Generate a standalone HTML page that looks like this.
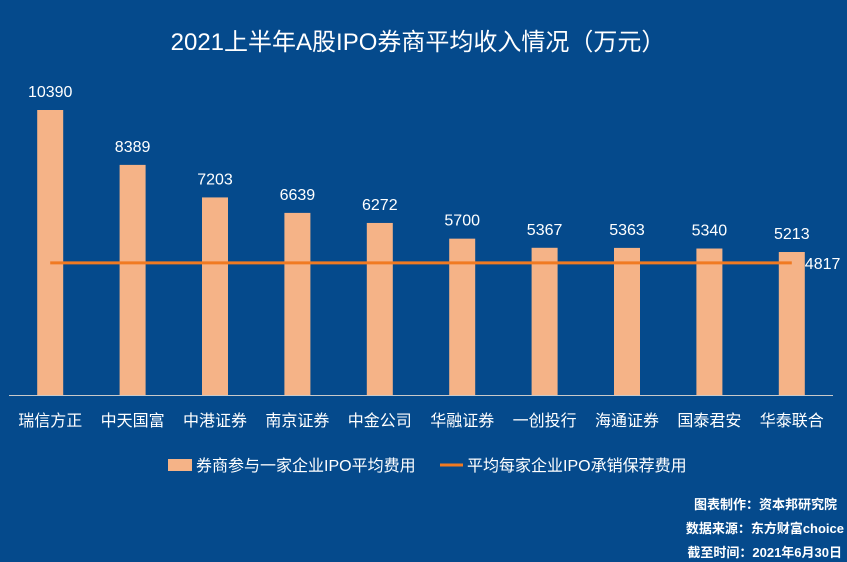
<!DOCTYPE html>
<html><head><meta charset="utf-8">
<style>
body{margin:0;width:847px;height:562px;background:#054A8C;overflow:hidden;font-family:"Liberation Sans","Noto Sans CJK SC",sans-serif;}
svg{display:block}
</style></head>
<body>
<svg width="847" height="562">
<text x="418" y="50" text-anchor="middle" fill="#fff" font-size="24">2021上半年A股IPO券商平均收入情况（万元）</text>
<line x1="9" y1="395.5" x2="833" y2="395.5" stroke="#c9c9c9" stroke-width="1"/>
<g id="bars"></g>
<g id="avg"></g>
<rect x="168" y="459" width="24" height="12" fill="#F5B387"/>
<text x="196" y="471" fill="#fff" font-size="16">券商参与一家企业IPO平均费用</text>
<line x1="440" y1="465" x2="463" y2="465" stroke="#F07A22" stroke-width="3"/>
<text x="467" y="471" fill="#fff" font-size="16">平均每家企业IPO承销保荐费用</text>
<g font-size="13" fill="#fff" text-anchor="end" font-weight="bold">
<text x="837" y="509">图表制作：资本邦研究院</text>
<text x="844" y="533">数据来源：东方财富choice</text>
<text x="842" y="557">截至时间：2021年6月30日</text>
</g>
</svg>
<script>
const categories=["瑞信方正","中天国富","中港证券","南京证券","中金公司","华融证券","一创投行","海通证券","国泰君安","华泰联合"];
const values=[10390,8389,7203,6639,6272,5700,5367,5363,5340,5213];
const avgValue=[4817];
const NS="http://www.w3.org/2000/svg";
const x0=9,step=82.4,base=395,k=285/10390,bw=26;
const xc=i=>x0+step*(i+0.5);
const y=v=>base-v*k;
const g=document.getElementById('bars');
function mk(t,a,p){const e=document.createElementNS(NS,t);for(const n in a)e.setAttribute(n,a[n]);p.appendChild(e);return e;}
categories.forEach((c,i)=>{
 const r=mk('rect',{x:xc(i)-bw/2,y:y(values[i]),width:bw,height:base-y(values[i]),fill:'#F5B387'},g);
 
 
 const t=mk('text',{x:xc(i),y:y(values[i])-13,'text-anchor':'middle',fill:'#fff','font-size':16},g);
 t.textContent=values[i];
 
 
 const l=mk('text',{x:xc(i),y:426,'text-anchor':'middle',fill:'#fff','font-size':16},g);
 l.textContent=c;
 
 
});
const a=document.getElementById('avg');
const ln=mk('line',{x1:xc(0),x2:xc(categories.length-1),y1:y(avgValue[0]),y2:y(avgValue[0]),stroke:'#F07A22','stroke-width':3},a);


const at=mk('text',{x:xc(categories.length-1)+13,y:y(avgValue[0])+6,fill:'#fff','font-size':16},a);
at.textContent=avgValue[0];


</script>
</body></html>
